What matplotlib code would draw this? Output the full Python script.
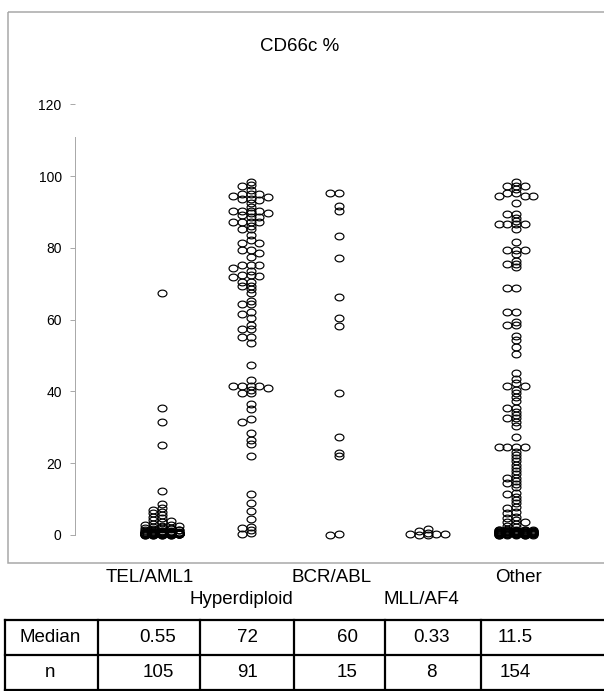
import numpy as np
import matplotlib
matplotlib.use("Agg")
import matplotlib.pyplot as plt
from matplotlib.path import Path
from matplotlib.patches import Rectangle
from matplotlib.lines import Line2D

plt.rcParams['font.family'] = ['Liberation Sans', 'DejaVu Sans']

# ---------------- data ----------------
title = "CD66c %"
categories = ["TEL/AML1", "Hyperdiploid", "BCR/ABL", "MLL/AF4", "Other"]

tel_aml1 = [67.3, 35.3, 31.4, 25.2, 12.3, 8.6, 7.6, 7.0, 6.5, 6.0,
            5.5, 5.1, 4.6, 4.2, 3.9, 3.6, 3.2, 2.9, 2.8, 2.6,
            2.4, 2.3, 2.1, 2.0, 1.9, 1.8, 1.7, 1.6, 1.5, 1.4,
            1.3, 1.3, 1.2, 1.1, 1.1, 1.0, 1.0, 0.95, 0.9, 0.9,
            0.85, 0.8, 0.8, 0.75, 0.7, 0.7, 0.68, 0.65, 0.62, 0.6,
            0.6, 0.58, 0.55,
            0.5, 0.5, 0.5, 0.5, 0.5, 0.5, 0.45, 0.45, 0.45, 0.45, 0.45,
            0.4, 0.4, 0.4, 0.4, 0.4, 0.4, 0.35, 0.35, 0.35, 0.35, 0.35,
            0.3, 0.3, 0.3, 0.3, 0.3, 0.3, 0.25, 0.25, 0.25, 0.25, 0.25,
            0.2, 0.2, 0.2, 0.2, 0.2, 0.2, 0.15, 0.15, 0.15, 0.15, 0.15,
            0.1, 0.1, 0.1, 0.1, 0.05, 0.05, 0.0, 0.0]

hyperdiploid = [98.4, 97.5, 97.3, 96.0, 95.0, 95.0, 95.0, 94.5, 94.2, 93.5,
                93.5, 93.3, 92.4, 91.4, 90.3, 90.3, 90.3, 90.3, 89.6, 89.6,
                89.1, 88.5, 88.5, 87.3, 87.3, 87.3, 87.3, 86.0, 85.1, 85.1,
                83.6, 82.2, 81.4, 81.4, 79.4, 79.4, 78.6, 77.3, 75.2, 75.2,
                75.2, 74.5, 73.6, 72.4, 72.4, 72.1, 72.0,
                70.6, 70.6, 69.4, 69.4, 68.5, 67.3, 65.3, 64.3, 64.3, 62.2,
                61.5, 60.4, 58.5, 57.4, 57.4, 55.2, 55.2, 53.4, 47.4,
                43.2, 41.5, 41.5, 41.5, 41.5, 40.9, 40.4, 39.5, 39.5, 36.4,
                35.1, 32.2, 31.4, 28.5, 26.5, 25.3, 22.1, 11.4, 8.8, 6.8,
                4.4, 2.3, 2.0, 1.4, 0.5, 0.3]

bcr_abl = [95.2, 95.2, 91.6, 90.2, 83.4, 77.2, 66.4, 60.5, 58.2, 39.5,
           27.4, 22.9, 22.0, 0.3, 0.1]

mll_af4 = [0.0, 0.1, 0.2, 0.3, 0.36, 0.6, 1.0, 1.8]

other = [98.4, 97.3, 97.3, 97.3, 96.3, 95.3, 95.3, 94.5, 94.5, 94.5,
         92.4, 89.3, 89.3, 88.4, 87.5, 86.6, 86.6, 86.6, 86.6, 85.1,
         81.7, 79.4, 79.4, 79.4, 78.3, 76.4, 75.5, 75.5, 74.6, 68.7,
         68.7, 62.2, 62.2, 59.4, 58.5, 58.5, 55.4, 54.3, 52.3, 50.4,
         45.2, 43.5, 42.3, 41.6, 41.6, 40.4, 39.5, 38.5, 37.3, 35.3,
         35.3, 34.4, 33.4, 32.5, 32.5, 31.6, 30.4, 27.4, 24.4, 24.4,
         24.4, 24.4,
         23.2, 22.3, 21.4, 20.5, 19.6, 18.7, 17.8, 16.9, 16.0, 15.8,
         15.1, 14.4, 14.2, 13.3, 11.7,
         11.5, 10.6, 9.7, 8.8, 7.9, 7.4, 6.5, 6.0, 5.1, 4.6,
         4.1, 3.6, 3.5, 3.1, 2.6, 2.1, 1.6,
         1.5, 1.5, 1.5, 1.3, 1.3, 1.3, 1.3, 1.1, 1.1, 1.1, 1.1,
         1.0, 1.0, 1.0, 1.0, 1.0, 0.9, 0.9, 0.9, 0.9,
         0.8, 0.8, 0.8, 0.8, 0.8, 0.7, 0.7, 0.7, 0.7,
         0.6, 0.6, 0.6, 0.6, 0.6, 0.5, 0.5, 0.5, 0.5, 0.5,
         0.4, 0.4, 0.4, 0.4, 0.3, 0.3, 0.3, 0.3, 0.3,
         0.2, 0.2, 0.2, 0.2, 0.1, 0.1, 0.1, 0.1, 0.0, 0.0, 0.0]

series = [tel_aml1, hyperdiploid, bcr_abl, mll_af4, other]

row_labels = ["Median", "n"]
medians = ["0.55", "72", "60", "0.33", "11.5"]
counts = ["105", "91", "15", "8", "154"]
yticks = [0, 20, 40, 60, 80, 100, 120]

# ---------------- layout (pixels) ----------------
W, H = 604, 691
fig = plt.figure(figsize=(W / 100, H / 100), dpi=100)

x0_px, xstep_px = 73.5, 88.5      # pixel of category position 0, px per category
y0_px, ystep_px = 535.0, 3.59     # pixel of value 0, px per unit
ax_l, ax_r, ax_b, ax_t = 75, 592, 541, 100

ax = fig.add_axes([ax_l / W, 1 - ax_b / H, (ax_r - ax_l) / W, (ax_b - ax_t) / H])
ax.set_xlim((ax_l - x0_px) / xstep_px, (ax_r - x0_px) / xstep_px)
ax.set_ylim((y0_px - ax_b) / ystep_px, (y0_px - ax_t) / ystep_px)
ax.patch.set_alpha(0)


def swarm(vals, step_px=8.7, ythr_px=3.0, maxk=2):
    vals = np.asarray(vals, dtype=float)
    order = np.argsort(-vals, kind="stable")
    cands = [0]
    for k in range(1, maxk + 1):
        cands += [-k, k]
    placed = []
    offs = np.zeros(len(vals))
    for i in order:
        y = vals[i] * ystep_px
        best, bestcnt = None, None
        for c in cands:
            cnt = sum(1 for (pc, py) in placed if abs(pc - c) < 1 and abs(py - y) < ythr_px)
            if cnt == 0:
                best = c
                break
            if bestcnt is None or cnt < bestcnt:
                best, bestcnt = c, cnt
        placed.append((best, y))
        offs[i] = best
    return offs * step_px / xstep_px


theta = np.linspace(0, 2 * np.pi, 64)
ell = Path(np.column_stack([np.cos(theta), 0.76 * np.sin(theta)]), closed=True)

for i, vals in enumerate(series, start=1):
    xs = i + swarm(vals)
    ax.plot(xs, vals, linestyle="none", marker=ell, markersize=6.4,
            markerfacecolor="none", markeredgecolor="black",
            markeredgewidth=0.85, clip_on=False)

ax.set_yticks(yticks)
ax.set_yticklabels([str(t) for t in yticks], fontsize=10)
ax.tick_params(axis="y", direction="out", length=3.6, width=0.7,
               color="#a8a8a8", pad=6)
ax.set_xticks([])
for s in ["top", "right", "bottom"]:
    ax.spines[s].set_visible(False)
ax.spines["left"].set_color("#a8a8a8")
ax.spines["left"].set_linewidth(0.7)
ax.spines["left"].set_bounds(0, 111)

# ---------------- overlay in pixel coordinates ----------------
ov = fig.add_axes([0, 0, 1, 1], zorder=-1)
ov.set_xlim(0, W)
ov.set_ylim(H, 0)
ov.axis("off")

ov.add_patch(Rectangle((8, 12), 620, 551, fill=False, edgecolor="#a8a8a8", linewidth=1.1))
ov.text(300, 46, title, fontsize=13.5, ha="center", va="center")

label_dx_px = [-12, -9, -7, -6, 2]
label_y_px = [578, 600, 578, 600, 578]
for i, (lab, dx, ly) in enumerate(zip(categories, label_dx_px, label_y_px), start=1):
    ov.text(x0_px + xstep_px * i + dx, ly, lab, fontsize=13.5, ha="center", va="center")

# table
row_lines = [620, 655, 690]
col_lines = [5, 98, 200, 294, 385, 481]
for yl in row_lines:
    ov.add_line(Line2D([5, W], [yl, yl], color="black", linewidth=1.6))
for xl in col_lines:
    ov.add_line(Line2D([xl, xl], [row_lines[0], row_lines[-1]], color="black", linewidth=1.6))

col_centers = [50, 158, 248, 347, 431, 515]
row_centers = [637.5, 672.5]
for r, (rl, vals) in enumerate(zip(row_labels, [medians, counts])):
    ov.text(col_centers[0], row_centers[r], rl, fontsize=13.5, ha="center", va="center")
    for c, v in enumerate(vals, start=1):
        ov.text(col_centers[c], row_centers[r], v, fontsize=13.5, ha="center", va="center")

fig.savefig("out.png", dpi=100)
